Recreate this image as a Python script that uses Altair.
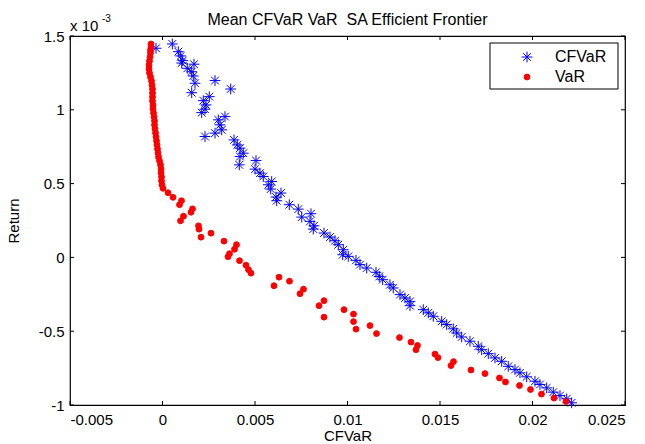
import altair as alt
import pandas as pd

# ---- data (x in units of 1e-3, return in units of 1e-3) ----
cfvar_risk_milli = [
    0.530, -0.351, 0.854, 0.984, 1.092, 1.038, 1.703, 1.340, 1.578, 1.665,
    2.838, 1.757, 3.686, 1.578, 2.530, 2.205, 2.351, 2.297, 2.119, 3.378,
    3.016, 3.108, 3.200, 2.838, 2.297, 3.865, 4.043, 4.189, 4.367, 4.189,
    4.151, 5.054, 5.000, 5.270, 5.448, 5.902, 5.718, 5.848, 6.405, 6.135,
    6.173, 6.854, 7.340, 8.026, 7.524, 7.972, 8.189, 8.151, 8.729, 9.053,
    9.324, 9.502, 9.772, 9.740, 10.043, 10.459, 10.675, 11.037, 11.540, 11.718,
    11.902, 12.296, 12.475, 12.837, 13.107, 13.377, 13.377, 14.096, 14.366, 14.637,
    15.091, 15.361, 15.718, 15.902, 16.172, 16.620, 17.069, 17.253, 17.609, 17.972,
    18.334, 18.690, 19.053, 19.323, 19.685, 20.134, 20.404, 20.766, 21.123, 21.485,
    21.847, 22.117,
]
cfvar_return_milli = [
    1.446, 1.417, 1.394, 1.365, 1.333, 1.317, 1.309, 1.281, 1.258, 1.229,
    1.198, 1.180, 1.141, 1.116, 1.089, 1.062, 1.033, 1.004, 0.981, 0.954,
    0.932, 0.898, 0.864, 0.842, 0.819, 0.796, 0.762, 0.740, 0.706, 0.683,
    0.627, 0.656, 0.598, 0.571, 0.548, 0.514, 0.492, 0.463, 0.436, 0.409,
    0.384, 0.357, 0.327, 0.296, 0.273, 0.244, 0.214, 0.192, 0.165, 0.138,
    0.113, 0.086, 0.052, 0.018, 0.007, -0.020, -0.049, -0.072, -0.101, -0.129,
    -0.151, -0.185, -0.207, -0.252, -0.275, -0.298, -0.327, -0.354, -0.376, -0.399,
    -0.433, -0.455, -0.484, -0.512, -0.539, -0.568, -0.602, -0.625, -0.652, -0.681,
    -0.704, -0.738, -0.760, -0.782, -0.809, -0.839, -0.861, -0.884, -0.913, -0.936,
    -0.958, -0.985,
]
var_risk_milli = [
    -0.622, -0.622, -0.649, -0.649, -0.676, -0.703, -0.730, -0.730, -0.703, -0.649,
    -0.595, -0.568, -0.541, -0.541, -0.541, -0.541, -0.514, -0.514, -0.486, -0.459,
    -0.432, -0.432, -0.405, -0.378, -0.351, -0.324, -0.297, -0.270, -0.243, -0.216,
    -0.162, -0.108, -0.081, -0.081, -0.054, -0.054, -0.027, 0.027,
    0.297, 0.568, 1.027, 0.919, 1.622, 1.540, 1.135, 0.973, 1.946, 1.973,
    2.621, 2.081, 3.324, 4.000, 3.892, 3.621, 3.540, 4.162, 4.513, 4.648,
    4.783, 6.297, 6.864, 6.027, 7.621, 7.432, 8.729, 8.459, 8.729, 9.810,
    10.324, 10.324, 10.459, 11.215, 11.567, 12.810, 13.431, 13.783, 13.702, 14.729,
    14.891, 15.729, 15.594, 16.674, 17.431, 18.215, 18.539, 19.296, 19.890, 20.485,
    21.161, 21.809,
]
var_return_milli = [
    1.446, 1.426, 1.405, 1.385, 1.358, 1.331, 1.304, 1.277, 1.250, 1.223,
    1.196, 1.168, 1.141, 1.114, 1.087, 1.060, 1.033, 1.006, 0.979, 0.952,
    0.925, 0.898, 0.871, 0.844, 0.817, 0.790, 0.763, 0.735, 0.708, 0.681,
    0.654, 0.627, 0.600, 0.573, 0.546, 0.519, 0.492, 0.468,
    0.438, 0.407, 0.384, 0.357, 0.329, 0.306, 0.279, 0.248, 0.214, 0.191,
    0.164, 0.137, 0.110, 0.086, 0.055, 0.025, 0.005, -0.022, -0.053, -0.083,
    -0.107, -0.134, -0.161, -0.192, -0.215, -0.246, -0.293, -0.327, -0.405, -0.354,
    -0.384, -0.435, -0.486, -0.462, -0.516, -0.543, -0.574, -0.597, -0.625, -0.655,
    -0.679, -0.706, -0.733, -0.763, -0.787, -0.817, -0.844, -0.868, -0.895, -0.926,
    -0.953, -0.976,
]

series_names = ["CFVaR", "VaR"]
x_ticks = [-0.005, 0, 0.005, 0.01, 0.015, 0.02, 0.025]
y_ticks = [-1, -0.5, 0, 0.5, 1, 1.5]
title_text = "Mean CFVaR VaR\u00a0 SA Efficient Frontier"

df = pd.DataFrame({
    "risk": [v * 1e-3 for v in cfvar_risk_milli] + [v * 1e-3 for v in var_risk_milli],
    "ret": cfvar_return_milli + var_return_milli,
    "series": ["CFVaR"] * len(cfvar_risk_milli) + ["VaR"] * len(var_risk_milli),
})

W, H = 555, 369
FONT = "Liberation Sans"
STAR = "M-1,0L1,0M0,-1L0,1M-0.72,-0.72L0.72,0.72M-0.72,0.72L0.72,-0.72"

xscale = alt.Scale(domain=[-0.005, 0.025], nice=False, zero=False)
yscale = alt.Scale(domain=[-1, 1.5], nice=False, zero=False)
fix_minus = "replace(format(datum.value, '~g'), '\u2212', '-')"

xaxis = alt.Axis(values=x_ticks, labelExpr=fix_minus, ticks=False, domain=False,
                 grid=False, labelPadding=7, titlePadding=1,
                 labelFont=FONT, labelFontSize=15, labelColor="black",
                 titleFont=FONT, titleFontSize=15, titleFontWeight="normal", titleColor="black")
yaxis = alt.Axis(values=y_ticks, labelExpr=fix_minus, ticks=False, domain=False,
                 grid=False, labelPadding=6, titlePadding=17,
                 labelFont=FONT, labelFontSize=15, labelColor="black",
                 titleFont=FONT, titleFontSize=15, titleFontWeight="normal", titleColor="black")
leg = alt.Legend(orient="none", legendX=449, legendY=13, title=None, padding=0,
                 labelFont=FONT, labelFontSize=16, labelColor="black",
                 symbolStrokeWidth=1, labelOffset=20, rowPadding=4)

# legend frame (drawn under the legend entries)
legend_box = alt.Chart(pd.DataFrame({"k": [0]})).mark_rect(
    fill="white", stroke="black", strokeWidth=1
).encode(x=alt.value(420), x2=alt.value(548), y=alt.value(7), y2=alt.value(53))

points = alt.Chart(df).mark_point(filled=False, strokeWidth=1, opacity=1).encode(
    x=alt.X("risk:Q", scale=xscale, title="CFVaR", axis=xaxis),
    y=alt.Y("ret:Q", scale=yscale, title="Return", axis=yaxis),
    shape=alt.Shape("series:N", title=None, legend=leg,
                    scale=alt.Scale(domain=series_names, range=[STAR, "circle"])),
    stroke=alt.Stroke("series:N", title=None, legend=leg,
                      scale=alt.Scale(domain=series_names, range=["#0000ff", "#ff0000"])),
    fill=alt.Fill("series:N", title=None, legend=leg,
                  scale=alt.Scale(domain=series_names, range=["transparent", "#ff0000"])),
    size=alt.Size("series:N", title=None, legend=leg,
                  scale=alt.Scale(domain=series_names, range=[115, 34])),
)

xt = pd.DataFrame({"risk": x_ticks})
yt = pd.DataFrame({"ret": y_ticks})
tick_style = dict(color="black", strokeWidth=1)
bottom_ticks = alt.Chart(xt).mark_rule(**tick_style).encode(
    x=alt.X("risk:Q", scale=xscale, title="CFVaR", axis=xaxis),
    y=alt.value(H), y2=alt.value(H - 4))
top_ticks = alt.Chart(xt).mark_rule(**tick_style).encode(
    x=alt.X("risk:Q", scale=xscale, title="CFVaR", axis=xaxis),
    y=alt.value(0), y2=alt.value(4))
left_ticks = alt.Chart(yt).mark_rule(**tick_style).encode(
    y=alt.Y("ret:Q", scale=yscale, title="Return", axis=yaxis),
    x=alt.value(0), x2=alt.value(4))
right_ticks = alt.Chart(yt).mark_rule(**tick_style).encode(
    y=alt.Y("ret:Q", scale=yscale, title="Return", axis=yaxis),
    x=alt.value(W), x2=alt.value(W - 4))

title_mark = alt.Chart(pd.DataFrame({"t": [title_text]})).mark_text(
    font=FONT, fontSize=16, align="center", baseline="alphabetic", color="black"
).encode(text="t:N", x=alt.value(W / 2), y=alt.value(-11))
exp_base = alt.Chart(pd.DataFrame({"t": ["x 10"]})).mark_text(
    font=FONT, fontSize=15, align="left", baseline="alphabetic", color="black"
).encode(text="t:N", x=alt.value(0), y=alt.value(-5))
exp_sup = alt.Chart(pd.DataFrame({"t": ["-3"]})).mark_text(
    font=FONT, fontSize=10, align="left", baseline="alphabetic", color="black"
).encode(text="t:N", x=alt.value(32), y=alt.value(-14))

chart = alt.layer(
    points, bottom_ticks, top_ticks, left_ticks, right_ticks, legend_box,
    title_mark, exp_base, exp_sup
).properties(
    width=W, height=H,
    autosize=alt.AutoSizeParams(type="none"),
    padding={"left": 70, "top": 36, "right": 20, "bottom": 39},
).configure(
    background="white"
).configure_view(
    stroke="black", strokeWidth=1.2
)

chart.save("out.html", embed_options={"renderer": "svg", "actions": False})
